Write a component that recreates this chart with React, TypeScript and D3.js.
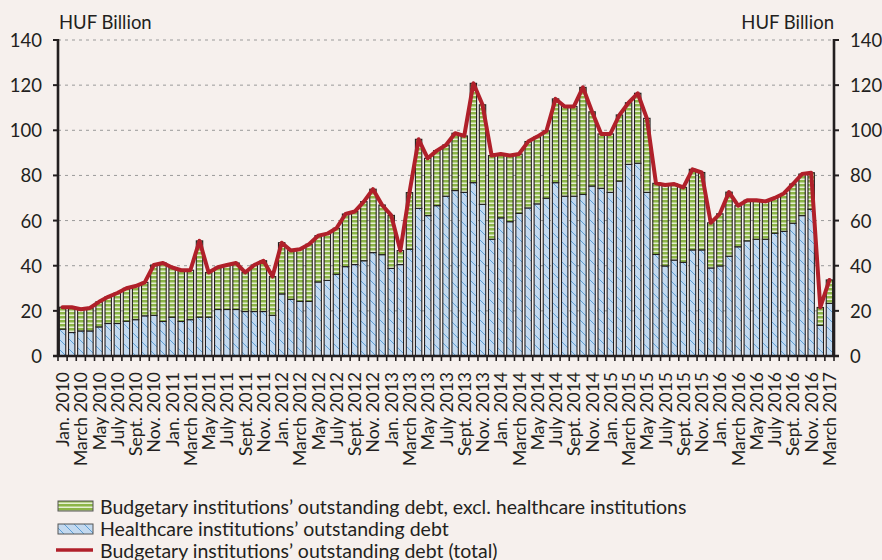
import React from "react";
import * as d3 from "d3";

const monthNames = ["Jan.", "Feb.", "March", "April", "May", "June", "July", "Aug.", "Sept.", "Oct.", "Nov.", "Dec."];
const years = [2010, 2011, 2012, 2013, 2014, 2015, 2016];
const extraCategories = ["March 2017"];
const categories: string[] = [
  ...years.flatMap((y) => monthNames.map((m) => `${m} ${y}`)),
  ...extraCategories,
];

// Healthcare institutions' outstanding debt (HUF bn)
const healthcare = [
  11.9, 10.4, 11.1, 11.1, 12.9, 14.4, 14.4, 15.4, 16.1, 17.8, 18.0, 15.3,
  17.2, 15.3, 16.1, 17.2, 17.2, 20.6, 20.6, 20.6, 19.7, 19.7, 19.7, 18.0,
  27.5, 25.1, 24.2, 24.2, 32.8, 33.5, 36.2, 39.6, 40.5, 42.2, 45.8, 44.9,
  38.8, 40.5, 47.3, 65.4, 62.2, 66.6, 70.8, 73.3, 72.5, 76.8, 67.2, 51.7,
  61.2, 59.5, 63.2, 65.6, 67.4, 69.9, 76.8, 70.8, 70.8, 71.6, 75.3, 74.3,
  72.5, 77.5, 84.9, 85.4, 72.5, 45.0, 39.9, 42.5, 41.5, 47.0, 47.0, 39.0,
  39.9, 44.2, 48.4, 51.0, 51.7, 51.7, 54.4, 55.2, 58.8, 62.2, 65.0, 13.6,
  23.3,
];

// Budgetary institutions' outstanding debt (total, HUF bn)
const total = [
  21.6, 21.6, 20.7, 21.3, 24.0, 26.2, 27.9, 30.0, 31.0, 32.6, 40.3, 41.2,
  39.2, 38.0, 38.0, 51.0, 37.0, 39.3, 40.3, 41.2, 37.0, 40.3, 42.2, 35.2,
  50.2, 46.7, 47.3, 49.5, 53.3, 54.2, 56.6, 62.9, 64.0, 68.4, 73.9, 66.9,
  62.3, 46.7, 72.4, 96.0, 87.6, 91.0, 93.5, 98.7, 97.5, 120.8, 111.3, 88.8,
  89.5, 88.8, 89.5, 95.0, 97.2, 99.7, 113.9, 110.5, 110.5, 119.0, 108.2, 98.4,
  98.4, 106.8, 112.2, 116.4, 105.3, 76.5, 75.8, 76.2, 74.7, 82.7, 81.3, 59.0,
  63.0, 72.6, 66.6, 69.0, 69.0, 68.5, 70.0, 72.0, 76.2, 80.6, 81.2, 21.5,
  33.7,
];

const yTicks = [0, 20, 40, 60, 80, 100, 120, 140];
const unitLabel = "HUF Billion";
const legendLabels = [
  "Budgetary institutions’ outstanding debt, excl. healthcare institutions",
  "Healthcare institutions’ outstanding debt",
  "Budgetary institutions’ outstanding debt (total)",
];

const W = 882;
const H = 560;
const L = 58;
const R = 834;
const T = 40;
const B = 356;
const FONT = "Lato, 'Open Sans', 'DejaVu Sans', sans-serif";
const BG = "#f6f0ed";
const AXIS = "#231f20";
const RED = "#b0202a";

export default function App() {
  const x = d3.scaleBand<string>().domain(categories).range([L, R]).paddingInner(0.3).paddingOuter(0.15);
  const y = d3.scaleLinear().domain([0, 140]).range([B, T]);
  const step = x.step();
  const bw = x.bandwidth();
  const cx = (c: string) => (x(c) as number) + bw / 2;

  const line = d3
    .line<number>()
    .x((_, i) => cx(categories[i]))
    .y((d) => y(d));

  const boundaries = d3.range(categories.length + 1).map((i) => L + i * step);

  return (
    <svg
      width={W}
      height={H}
      style={{ position: "fixed", left: 0, top: 0, display: "block" }}
      fontFamily={FONT}
    >
      <defs>
        <pattern id="greenPat" patternUnits="userSpaceOnUse" width="8" height="4">
          <rect width="8" height="4" fill="#8cb548" />
          <rect y="2.5" width="8" height="1.5" fill="#e6efd4" />
        </pattern>
        <pattern id="bluePat" patternUnits="userSpaceOnUse" width="10" height="10">
          <rect width="10" height="10" fill="#c3d9ef" />
          <path d="M-2,-2 L12,12 M-2,8 L2,12 M8,-2 L12,2" stroke="#5ea0d6" strokeWidth="1" />
        </pattern>
      </defs>
      <rect x={0} y={0} width={W} height={H} fill={BG} />

      {/* gridlines */}
      {yTicks
        .filter((t) => t > 0)
        .map((t) => (
          <line key={t} x1={L} x2={R} y1={y(t)} y2={y(t)} stroke="#9a9a9a" strokeWidth={1} strokeDasharray="3,4" />
        ))}

      {/* bars */}
      {categories.map((c, i) => {
        const h = healthcare[i];
        const tot = total[i];
        const bx = x(c) as number;
        return (
          <g key={c}>
            <rect x={bx} y={y(h)} width={bw} height={y(0) - y(h)} fill="url(#bluePat)" stroke={AXIS} strokeWidth={1.1} />
            <rect x={bx} y={y(tot)} width={bw} height={y(h) - y(tot)} fill="url(#greenPat)" stroke={AXIS} strokeWidth={1.1} />
          </g>
        );
      })}

      {/* total line */}
      <path d={line(total) || ""} fill="none" stroke={RED} strokeWidth={4} strokeLinejoin="round" strokeLinecap="round" />

      {/* axes */}
      <line x1={L} x2={L} y1={T - 1} y2={B} stroke={AXIS} strokeWidth={2.6} />
      <line x1={R} x2={R} y1={T - 1} y2={B} stroke={AXIS} strokeWidth={2.6} />
      <line x1={L - 5} x2={R + 5} y1={B} y2={B} stroke={AXIS} strokeWidth={2.4} />
      {yTicks.map((t) => (
        <g key={"yt" + t}>
          <line x1={L - 5} x2={L} y1={y(t)} y2={y(t)} stroke={AXIS} strokeWidth={2} />
          <line x1={R} x2={R + 5} y1={y(t)} y2={y(t)} stroke={AXIS} strokeWidth={2} />
          <text x={42} y={y(t)} textAnchor="end" dominantBaseline="central" fontSize={18.5} fill={AXIS}>
            {t}
          </text>
          <text x={850} y={y(t)} textAnchor="start" dominantBaseline="central" fontSize={18.5} fill={AXIS}>
            {t}
          </text>
        </g>
      ))}
      {boundaries.map((bx, i) => (
        <line key={"xt" + i} x1={bx} x2={bx} y1={B} y2={B + 5} stroke={AXIS} strokeWidth={1.6} />
      ))}
      {categories.map((c, i) =>
        i % 2 === 0 ? (
          <text
            key={"xl" + c}
            transform={`translate(${cx(c)},${372}) rotate(-90)`}
            textAnchor="end"
            dominantBaseline="central"
            fontSize={17.5}
            fill={AXIS}
          >
            {c}
          </text>
        ) : null
      )}

      <text x={59} y={29} fontSize={18.5} fill={AXIS}>
        {unitLabel}
      </text>
      <text x={834} y={29} fontSize={18.5} fill={AXIS} textAnchor="end">
        {unitLabel}
      </text>

      {/* legend */}
      <g>
        <rect x={58} y={501} width={35} height={10} fill="url(#greenPat)" stroke="#555" strokeWidth={1} />
        <text x={100} y={506} dominantBaseline="central" fontSize={19.5} fill={AXIS}>
          {legendLabels[0]}
        </text>
        <rect x={58} y={524} width={35} height={10} fill="url(#bluePat)" stroke="#555" strokeWidth={1} />
        <text x={100} y={528.5} dominantBaseline="central" fontSize={19.5} fill={AXIS}>
          {legendLabels[1]}
        </text>
        <line x1={56} x2={93} y1={550} y2={550} stroke={RED} strokeWidth={3.5} />
        <text x={100} y={550} dominantBaseline="central" fontSize={19.5} fill={AXIS}>
          {legendLabels[2]}
        </text>
      </g>
    </svg>
  );
}
